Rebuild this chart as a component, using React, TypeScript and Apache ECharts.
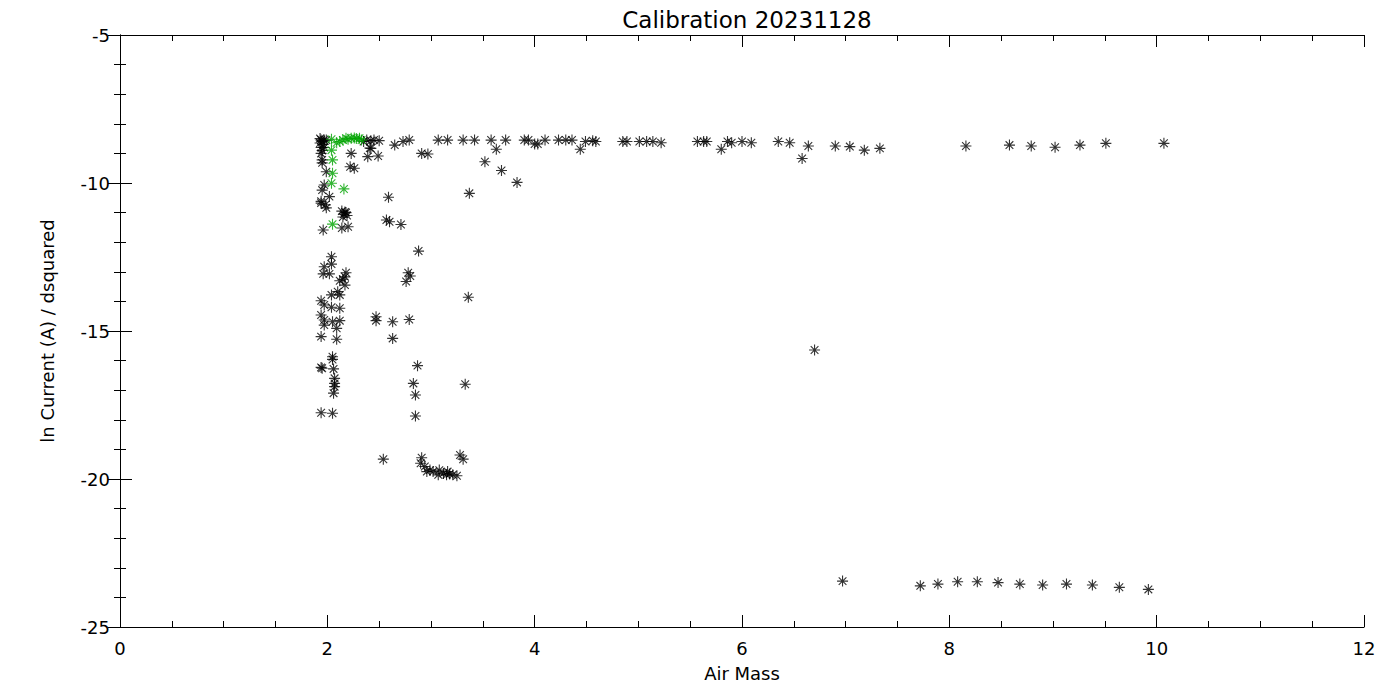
import React, { useEffect, useRef } from "react";
import * as echarts from "echarts";

const titleText = "Calibration 20231128";
const xName = "Air Mass";
const yName = "ln Current (A) / dsquared";

const xRange = [0, 12];
const yRange = [-25, -5];
const xMajor = 2;
const xMinor = 0.5;
const yMajor = 5;
const yMinor = 1;

const blackPoints: number[][] = [
  // top-left cluster near airmass 2
  [1.93, -8.5], [1.94, -8.55], [1.95, -8.6], [1.96, -8.7], [1.94, -8.8], [1.97, -8.55], [1.99, -8.55],
  [1.95, -8.9], [1.93, -8.65], [1.97, -8.8],
  [1.94, -9.0], [1.95, -9.22], [1.95, -9.32], [1.99, -9.62], [1.97, -10.07], [1.95, -10.24], [2.02, -10.46],
  [1.94, -10.68], [1.99, -10.84], [1.94, -10.62], [1.98, -10.74],
  [2.14, -10.95], [2.16, -11.05], [2.18, -11.0], [2.15, -11.15], [2.19, -11.1], [2.17, -10.98],
  [1.96, -11.59], [2.14, -11.52], [2.2, -11.48], [2.04, -12.49],
  [2.23, -9.0], [2.22, -9.45], [2.26, -9.5], [2.39, -9.11], [2.49, -9.09], [2.41, -8.82], [2.65, -8.72],
  [2.73, -8.6], [2.79, -8.55], [2.91, -9.0], [2.97, -9.02], [2.59, -10.48], [2.57, -11.25], [2.6, -11.31],
  [2.71, -11.4], [2.88, -12.3], [3.37, -10.35], [3.52, -9.28],
  [2.38, -8.55], [2.42, -8.57], [2.5, -8.57], [2.42, -8.83], [2.45, -8.55], [2.35, -8.6],
  // middle column
  [2.04, -12.74], [1.97, -12.83], [1.96, -13.07], [2.02, -13.07], [2.18, -13.03], [2.17, -13.17], [2.12, -13.3],
  [2.15, -13.25], [2.17, -13.45], [2.1, -13.67], [2.12, -13.78], [2.04, -13.78], [1.94, -13.98], [1.97, -14.12],
  [2.04, -14.2], [2.12, -14.23], [1.94, -14.46], [1.97, -14.63], [2.05, -14.69], [2.12, -14.65], [1.97, -14.8],
  [2.09, -14.91], [1.94, -15.19], [2.09, -15.28], [2.05, -15.87], [2.05, -15.96], [1.94, -16.23], [1.95, -16.26],
  [2.06, -16.28], [2.07, -16.6], [2.07, -16.77], [2.07, -16.88], [2.06, -17.1], [1.94, -17.76], [2.05, -17.78],
  [2.47, -14.52], [2.47, -14.65], [2.63, -14.69], [2.79, -14.61], [2.63, -15.25], [2.78, -13.03], [2.8, -13.14],
  [2.76, -13.33], [3.36, -13.86], [2.87, -16.17], [2.83, -16.77], [3.33, -16.8], [2.85, -17.16], [2.85, -17.87],
  // low cluster near -20
  [2.54, -19.33], [2.91, -19.28], [2.9, -19.47], [2.94, -19.58], [2.96, -19.75], [2.99, -19.7], [3.02, -19.75],
  [3.07, -19.86], [3.12, -19.81], [3.16, -19.75], [3.18, -19.83], [3.21, -19.86], [3.25, -19.89], [3.28, -19.19],
  [3.31, -19.33], [3.08, -19.7], [3.15, -19.86],
  // top row
  [3.07, -8.55], [3.16, -8.55], [3.31, -8.55], [3.42, -8.55], [3.58, -8.55], [3.63, -8.86], [3.72, -8.55],
  [3.68, -9.58], [3.83, -9.98], [3.9, -8.55], [3.94, -8.55], [4.0, -8.68], [4.03, -8.68], [4.1, -8.55],
  [4.23, -8.55], [4.3, -8.55], [4.36, -8.55], [4.44, -8.86], [4.49, -8.6], [4.56, -8.57], [4.59, -8.6],
  [4.85, -8.6], [4.89, -8.6], [5.01, -8.6], [5.08, -8.6], [5.14, -8.6], [5.22, -8.64], [5.57, -8.6],
  [5.63, -8.6], [5.66, -8.6], [5.8, -8.86], [5.86, -8.6], [5.9, -8.64], [6.0, -8.6], [6.09, -8.64],
  [6.35, -8.6], [6.46, -8.64], [6.64, -8.75], [6.58, -9.17], [6.9, -8.75], [7.04, -8.77], [7.18, -8.89],
  [7.33, -8.83], [8.16, -8.75], [8.58, -8.72], [8.79, -8.75], [9.02, -8.79], [9.26, -8.72], [9.51, -8.66],
  [10.07, -8.66],
  // outlier
  [6.7, -15.64],
  // bottom row
  [6.97, -23.45], [7.72, -23.61], [7.89, -23.55], [8.08, -23.47], [8.27, -23.47], [8.47, -23.5], [8.68, -23.55],
  [8.9, -23.58], [9.13, -23.55], [9.38, -23.58], [9.64, -23.66], [9.92, -23.73],
];

const greenPoints: number[][] = [
  [2.04, -8.52], [2.12, -8.6], [2.18, -8.49], [2.23, -8.49], [2.31, -8.49], [2.33, -8.55], [2.09, -8.64],
  [2.26, -8.48], [2.15, -8.55], [2.2, -8.52], [2.28, -8.5],
  [2.04, -8.89], [2.05, -9.22], [2.05, -9.67], [2.04, -10.01], [2.16, -10.2], [2.05, -11.39],
];

const asterisk = "path://M0,5L10,5M5,0L5,10M1.5,1.5L8.5,8.5M8.5,1.5L1.5,8.5";
const FONT = "DejaVu Sans";

function tickAxis(kind: "x" | "y", position: string, interval: number, len: number, showLine: boolean) {
  const range = kind === "x" ? xRange : yRange;
  return {
    type: "value",
    position,
    min: range[0],
    max: range[1],
    interval,
    axisLine: { show: showLine, lineStyle: { color: "#000", width: 1 } },
    axisTick: { show: true, inside: true, length: len, lineStyle: { color: "#000", width: 1 } },
    axisLabel: { show: false },
    splitLine: { show: false },
    minorTick: { show: false },
    silent: true,
  };
}

export default function App() {
  const ref = useRef<HTMLDivElement>(null);
  useEffect(() => {
    if (!ref.current) return;
    const chart = echarts.init(ref.current, undefined, { renderer: "svg" });
    const labelStyle = { fontFamily: FONT, fontSize: 18, color: "#000" };
    chart.setOption({
      animation: false,
      backgroundColor: "#fff",
      title: {
        text: titleText,
        left: 742,
        textAlign: "center",
        top: 3,
        textStyle: { fontFamily: FONT, fontSize: 23, fontWeight: "normal", color: "#000" },
      },
      grid: { left: 120, right: 36, top: 35, bottom: 73 },
      xAxis: [
        {
          ...tickAxis("x", "bottom", xMajor, 12, true),
          axisLabel: { show: true, margin: 12, ...labelStyle },
          name: xName,
          nameLocation: "middle",
          nameGap: 37,
          nameTextStyle: labelStyle,
        },
        tickAxis("x", "top", xMajor, 12, true),
        tickAxis("x", "bottom", xMinor, 6, false),
        tickAxis("x", "top", xMinor, 6, false),
      ],
      yAxis: [
        {
          ...tickAxis("y", "left", yMajor, 12, true),
          axisLabel: { show: true, margin: 10, ...labelStyle },
          name: yName,
          nameLocation: "middle",
          nameGap: 64,
          nameTextStyle: labelStyle,
        },
        tickAxis("y", "right", yMajor, 12, true),
        tickAxis("y", "left", yMinor, 6, false),
        tickAxis("y", "right", yMinor, 6, false),
      ],
      series: [
        {
          type: "scatter",
          xAxisIndex: 0,
          yAxisIndex: 0,
          data: blackPoints,
          symbol: asterisk,
          symbolSize: 11,
          itemStyle: { color: "rgba(0,0,0,0)", borderColor: "#000", borderWidth: 1.1 },
          emphasis: { disabled: true },
        },
        {
          type: "scatter",
          xAxisIndex: 0,
          yAxisIndex: 0,
          data: greenPoints,
          symbol: asterisk,
          symbolSize: 11,
          itemStyle: { color: "rgba(0,0,0,0)", borderColor: "#00a400", borderWidth: 1.1 },
          emphasis: { disabled: true },
        },
      ],
    });
    return () => chart.dispose();
  }, []);
  return (
    <div
      ref={ref}
      style={{ position: "fixed", left: 0, top: 0, width: 1400, height: 700, background: "#fff" }}
    />
  );
}
